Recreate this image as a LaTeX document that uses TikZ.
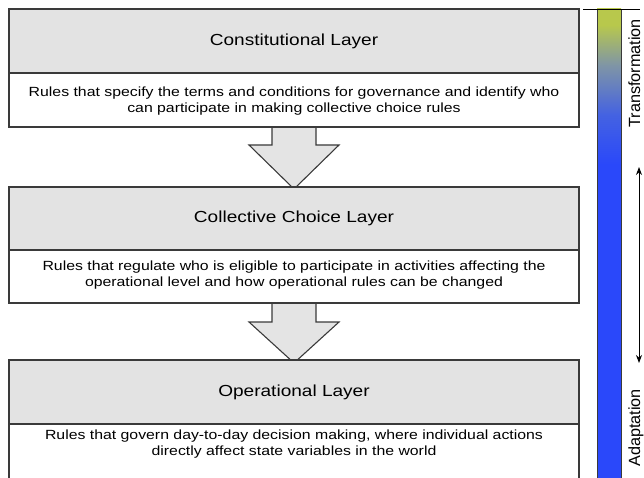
\documentclass[tikz,border=0pt]{standalone}
\usepackage{fontspec}
\setmainfont{Liberation Sans}
\newfontfamily\widefont[FakeStretch=1.19]{Liberation Sans}
\usetikzlibrary{calc,shadows,arrows.meta}
\definecolor{bordergray}{HTML}{3A3A3A}
\definecolor{headfill}{HTML}{E3E3E3}
\definecolor{arrowfill}{HTML}{E4E4E4}
\definecolor{barA}{HTML}{B8C84C}
\definecolor{barB}{HTML}{7F95A6}
\definecolor{barC}{HTML}{4462E2}
\definecolor{barD}{HTML}{2A48FA}
\pgfdeclareverticalshading{barshade}{100bp}{color(0bp)=(barD); color(58.4bp)=(barD); color(63.7bp)=(barC); color(69bp)=(barB); color(73.3bp)=(barA); color(100bp)=(barA)}
\begin{document}
\begin{tikzpicture}[x=1pt,y=-1pt,
  boxshadow/.style={drop shadow={shadow xshift=1.3pt,shadow yshift=-1.3pt,fill=black,opacity=0.3}},
  header/.style={draw=bordergray, line width=1.2pt, fill=headfill, minimum width=570pt, inner sep=0pt,
    font=\widefont\fontsize{16}{19}\selectfont, boxshadow},
  descbox/.style={draw=bordergray, line width=1.2pt, fill=white, minimum width=570pt, inner sep=0pt, boxshadow},
  desctext/.style={align=center, inner sep=0pt, font=\widefont\fontsize{13.3}{16}\selectfont},
  blockarrow/.style={draw=bordergray, line width=1.1pt, fill=arrowfill, line join=miter},
  sidelabel/.style={rotate=90, inner sep=0pt, anchor=base, font=\fontsize{16.2}{19}\selectfont}]
\useasboundingbox (0,0) rectangle (644,478);

% block arrows (drawn first, boxes cover their ends)
\coordinate (a1) at (294,127);
\coordinate (a2) at (294,303);
\draw[blockarrow] ($(a1)+(-22,-2)$) -- ($(a1)+(-22,18)$) -- ($(a1)+(-45,18)$) -- ($(a1)+(0,62)$)
  -- ($(a1)+(45,18)$) -- ($(a1)+(22,18)$) -- ($(a1)+(22,-2)$) -- cycle;
\draw[blockarrow] ($(a2)+(-22,-2)$) -- ($(a2)+(-22,19)$) -- ($(a2)+(-45,19)$) -- ($(a2)+(0,60)$)
  -- ($(a2)+(45,19)$) -- ($(a2)+(22,19)$) -- ($(a2)+(22,-2)$) -- cycle;

% layer 1
\node[descbox, minimum height=54pt] (d1) at (294,100) {};
\node[header, minimum height=64pt] (h1) at (294,41) {Constitutional Layer};
\node[desctext] (t1) at (294,101.5) {Rules that specify the terms and conditions for governance and identify who\\can participate in making collective choice rules};

% layer 2
\node[descbox, minimum height=53pt] (d2) at (294,276.5) {};
\node[header, minimum height=63pt] (h2) at (294,218.5) {Collective Choice Layer};
\node[desctext] (t2) at (294,275.5) {Rules that regulate who is eligible to participate in activities affecting the\\operational level and how operational rules can be changed};

% layer 3
\node[descbox, minimum height=56pt] (d3) at (294,452) {};
\node[header, minimum height=64pt] (h3) at (294,392) {Operational Layer};
\node[desctext] (t3) at (294,444.5) {Rules that govern day-to-day decision making, where individual actions\\directly affect state variables in the world};

% gradient bar
\shade[shading=barshade] (597,9) rectangle (621,478);
\draw[bordergray, line width=0.8pt] (597,9) rectangle (621,478);
\draw[black, line width=0.8pt] (583,9) -- (640,9);

% side labels and double arrow
\node[sidelabel] (tr) at (640,73.5) {Transformation};
\node[sidelabel] (ad) at (640,428) {Adaptation};
\coordinate (up) at (639,167);
\coordinate (dn) at (639,363);
\draw[line width=0.9pt, {Stealth[length=8pt,width=6pt]}-{Stealth[length=8pt,width=6pt]}] (up) -- (dn);
\end{tikzpicture}
\end{document}
